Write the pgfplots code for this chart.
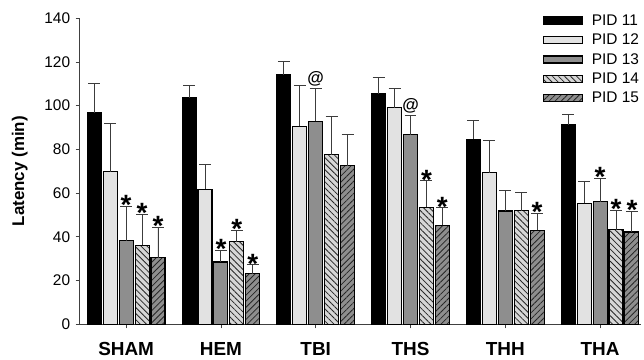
\documentclass[border=0pt]{standalone}
\usepackage{pgfplots}
\pgfplotsset{compat=1.18}
\usepackage{pgfplotstable}
\usetikzlibrary{patterns.meta}
\usepackage{fontspec}
\setmainfont{Liberation Sans}
\definecolor{lgray}{HTML}{E2E2E2}
\definecolor{mgray}{HTML}{8E8E8E}
\definecolor{hgray}{HTML}{D6D6D6}
\definecolor{errc}{HTML}{3C3C3C}

\pgfplotstableread{
x y e
0 96.7 13.3
1 103.7 5.6
2 114.2 5.8
3 105.5 7.6
4 84.7 8.5
5 91.3 4.5
}\pidA
\pgfplotstableread{
x y e
0 69.8 21.9
1 61.8 11.5
2 90.5 18.8
3 99.0 8.9
4 69.4 14.6
5 55.3 10.0
}\pidB
\pgfplotstableread{
x y e
0 38.3 15.6
1 28.5 5.5
2 92.8 15.3
3 86.7 8.9
4 51.8 9.2
5 56.0 10.8
}\pidC
\pgfplotstableread{
x y e
0 36.2 14.2
1 37.7 5.4
2 77.6 17.4
3 53.6 12.0
4 51.9 8.2
5 43.3 8.8
}\pidD
\pgfplotstableread{
x y e
0 30.5 14.0
1 23.1 4.1
2 72.6 14.2
3 45.3 8.0
4 43.0 7.7
5 42.2 9.6
}\pidE
% annotations: x (with bar offset), y (top of error bar), label
\pgfplotstableread{
x y lab
0.000 53.9 *
0.168 50.4 *
0.336 44.5 *
1.000 34.0 *
1.168 43.1 *
1.336 27.2 *
3.168 65.6 *
3.336 53.3 *
4.336 50.7 *
5.000 66.8 *
5.168 52.1 *
5.336 51.8 *
}\stars
\pgfplotstableread{
x y lab
2.000 108.1 @
3.000 95.6 @
}\ats

\begin{document}
\begin{tikzpicture}
\begin{axis}[
  name=ax,
  ybar,
  scale only axis,
  width=564pt, height=307.4pt,
  xmin=-0.4905, xmax=5.434,
  ymin=0, ymax=140,
  axis x line*=bottom, axis y line*=left,
  axis line style={line width=0.8pt, color=black!75},
  xtick={0,1,2,3,4,5},
  xticklabels={SHAM,HEM,TBI,THS,THH,THA},
  ytick={0,20,...,140},
  tick align=outside,
  major tick length=4pt,
  tick style={line width=0.8pt, color=black!75},
  /pgf/number format/assume math mode=true,
  yticklabel style={font=\fontsize{15.5}{18}\selectfont, xshift=-2pt},
  xticklabel style={font=\bfseries\fontsize{19}{22}\selectfont, yshift=-11pt},
  ylabel={\bfseries Latency (min)},
  ylabel style={font=\fontsize{17}{20}\selectfont, yshift=10pt},
  legend image code/.code={\draw[#1] (0pt,-3.5pt) rectangle (39pt,3.5pt);},
  legend style={draw=none, fill=none, at={(rel axis cs:1,1)}, anchor=north east,
    yshift=8pt, xshift=3pt,
    font=\fontsize{15.5}{18}\selectfont, row sep=3.3pt,
    /tikz/every odd column/.append style={column sep=7pt}},
  legend cell align=left,
  every axis plot/.append style={line width=1.1pt},
  error bars/y dir=plus,
  error bars/y explicit,
  error bars/error bar style={line width=0.9pt, color=errc},
  error bars/error mark=|,
  error bars/error mark options={line width=0.9pt, color=errc, mark size=6pt},
  bar width=0.148,
]
\addplot[bar shift=-0.336, draw=black, fill=black] table[x=x, y=y, y error=e] {\pidA};
\addplot[bar shift=-0.168, draw=black, fill=lgray] table[x=x, y=y, y error=e] {\pidB};
\addplot[bar shift=0, draw=black, fill=mgray] table[x=x, y=y, y error=e] {\pidC};
\addplot[bar shift=0.168, draw=black, fill=hgray,
  postaction={pattern={Lines[angle=-45, distance=4.3pt, line width=0.8pt]}, pattern color=black!85}]
  table[x=x, y=y, y error=e] {\pidD};
\addplot[bar shift=0.336, draw=black, fill=mgray,
  postaction={pattern={Lines[angle=45, distance=4.3pt, line width=0.8pt]}, pattern color=black!85}]
  table[x=x, y=y, y error=e] {\pidE};
\legend{PID 11, PID 12, PID 13, PID 14, PID 15}
\addplot[forget plot, bar shift=0, draw=none, fill=none, nodes near coords, point meta=explicit symbolic,
  every node near coord/.style={anchor=base, inner sep=0pt, yshift=-8.5pt,
    font=\bfseries\fontsize{28}{30}\selectfont}]
  table[x=x, y=y, meta=lab] {\stars};
\addplot[forget plot, bar shift=0, draw=none, fill=none, nodes near coords, point meta=explicit symbolic,
  every node near coord/.style={anchor=base, inner sep=0pt, yshift=4.5pt,
    font=\bfseries\fontsize{17}{19}\selectfont}]
  table[x=x, y=y, meta=lab] {\ats};
\end{axis}
\path ([xshift=-80pt,yshift=-33.3pt]ax.south west) rectangle ([yshift=18.3pt]ax.north east);
\end{tikzpicture}
\end{document}
